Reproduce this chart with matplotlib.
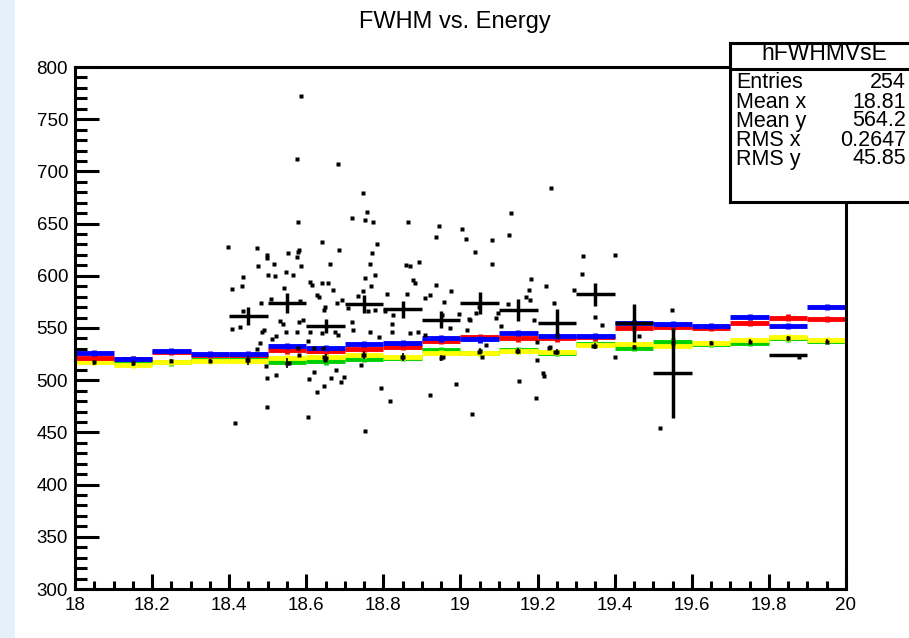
import matplotlib.pyplot as plt
import numpy as np
from matplotlib.patches import Rectangle

plt.rcParams['font.family'] = ['Liberation Sans', 'DejaVu Sans']

# bins of the profiles: 20 bins of 0.1 from 18 to 20
edges = np.round(np.arange(18.0, 20.01, 0.1), 2)
centers = edges[:-1] + 0.05

# scatter entries of hFWHMVsE (energy, fwhm)
scat_x = [18.585, 18.575, 18.681, 18.747, 18.757, 18.719, 18.753, 18.772, 18.578, 18.863,
          18.398, 18.472, 18.640, 18.685, 18.783, 18.770, 18.581, 18.578, 18.552, 18.575,
          18.499, 18.498,
          19.236, 19.130, 18.944, 19.004, 18.937, 19.013, 19.082, 19.126, 19.037, 19.318,
          18.893, 19.082,
          19.400, 19.314, 19.295, 19.349, 19.366, 19.400, 19.464, 19.548, 19.518, 18.976,
          18.957, 19.184, 19.178, 19.169, 19.179, 19.222, 19.242, 18.953, 18.972, 19.017,
          19.022, 19.047, 19.041, 19.106, 19.123, 19.093, 19.190, 19.199, 19.231, 19.214,
          19.152, 19.197, 19.031, 18.988, 19.244, 19.147, 19.057, 19.047, 19.344, 18.955,
          18.877, 18.881, 18.868, 18.937, 18.920, 18.907, 18.996, 19.024, 19.097, 19.067,
          19.198, 19.229, 19.216, 18.922, 18.868, 18.889, 18.907,
          18.474, 18.517, 18.586, 18.662, 18.764, 18.859, 18.436, 18.500, 18.518, 18.547,
          18.565, 18.407, 18.433, 18.610, 18.616, 18.640, 18.657, 18.543, 18.668, 18.753,
          18.777, 18.768, 18.734, 18.748, 18.861, 18.810, 18.509, 18.482, 18.435, 18.584,
          18.634, 18.627, 18.679, 18.692, 18.645, 18.649, 18.708, 18.761, 18.778, 18.803,
          18.826, 18.822, 18.428, 18.407, 18.489, 18.485, 18.539, 18.532, 18.547, 18.582,
          18.591, 18.577, 18.610, 18.640, 18.675, 18.683, 18.722, 18.718, 18.764, 18.789,
          18.822, 18.511, 18.522, 18.479, 18.604, 18.578, 18.619, 18.643, 18.472, 18.446,
          18.496, 18.554, 18.582, 18.649, 18.647, 18.741, 18.748, 18.848, 18.621, 18.677,
          18.498, 18.522, 18.607, 18.664, 18.698, 18.690, 18.646, 18.627, 18.794, 18.817,
          18.499, 18.605, 18.415, 18.753, 19.879]
scat_y = [772, 712, 707, 679, 661, 655, 653, 652, 652, 652,
          628, 627, 632, 625, 630, 622, 625, 623, 622, 618,
          620, 617,
          684, 660, 648, 645, 637, 635, 634, 639, 623, 619,
          613, 611,
          620, 602, 586, 561, 553, 522, 542, 567, 454, 585,
          575, 597, 586, 580, 577, 590, 574, 562, 550, 548,
          559, 570, 564, 552, 573, 560, 558, 537, 532, 507,
          499, 483, 468, 496, 527, 528, 522, 527, 533, 522,
          596, 593, 609, 591, 582, 579, 563, 558, 564, 534,
          519, 531, 504, 486, 545, 546, 543,
          609, 611, 609, 611, 611, 610, 599, 601, 600, 604,
          601, 587, 590, 594, 591, 593, 593, 588, 586, 598,
          601, 590, 581, 585, 583, 583, 578, 574, 566, 576,
          580, 582, 574, 577, 567, 570, 569, 566, 567, 566,
          562, 554, 551, 549, 548, 546, 554, 557, 546, 556,
          558, 546, 546, 545, 546, 543, 548, 556, 546, 541,
          546, 539, 542, 536, 538, 531, 531, 531, 530, 519,
          514, 516, 524, 519, 522, 515, 524, 522, 508, 510,
          502, 505, 501, 502, 503, 498, 494, 489, 493, 480,
          474, 465, 459, 451, 522]

# profile (black crosses)
prof_x = [18.45, 18.55, 18.65, 18.75, 18.85, 18.95, 19.05, 19.15, 19.25, 19.35, 19.45, 19.55, 19.85]
prof_y = [561.5, 574, 552, 572.7, 568, 558, 573.6, 567, 554.5, 582.3, 555, 507, 524]
prof_err = [8.8, 9.6, 6.5, 8.6, 8, 8, 10.5, 10.5, 13.6, 10.8, 18, 43, 0]

# coloured reference histograms
blue_y = [526, 520, 528, 525, 525, 533, 531, 535, 535.6, 540,
          539, 545.5, 542, 542, 554.5, 553.5, 552, 560.8, 552, 569.8]
red_y = [521, 520.5, 527, 524, 524, 528.5, 528, 529.6, 531.5, 537.5,
         541.7, 540, 540, 541, 549.7, 551.3, 550, 554.5, 560, 558.3]
yellow_y = [517.7, 515, 517.7, 518.5, 518.7, 521, 522.5, 524, 522.5, 526,
            526, 528, 527, 533.7, 534.4, 532.8, 535.3, 538.5, 541, 538.5]
green_y = [519, 516, 517, 519, 521, 517.7, 518, 520, 521, 529,
           526.5, 528.5, 526, 535, 530.5, 537, 535, 535.3, 540, 537.5]
mark_y = [517, 516, 518, 518, 519, 516.5, 521, 524, 522, 521.6,
          528, 528, 527, 533, 532, 536, 536, 537, 540, 537]
mark_err = [2, 2, 2, 2, 4, 5, 4, 4, 4, 3, 3, 3, 3, 3, 2, 2, 2, 2, 2, 2]

stat_names = ['Entries', 'Mean x', 'Mean y', 'RMS x', 'RMS y']
stat_vals = ['254', '18.81', '564.2', '0.2647', '45.85']

W, H = 909, 638
fig = plt.figure(figsize=(W / 100, H / 100), dpi=100)
fig.patches.append(Rectangle((0, 0), 15 / W, 1, transform=fig.transFigure,
                             facecolor='#e4f1fa', edgecolor='none', zorder=0))

ax = fig.add_axes([75 / W, 1 - 589 / H, (846 - 75) / W, (589 - 67) / H])

for vals, col in [(green_y, '#00d000'), (yellow_y, '#ffff00'), (red_y, '#ff0000'), (blue_y, '#0000ff')]:
    ax.errorbar(centers, vals, xerr=0.05, yerr=3, fmt='none', ecolor=col, elinewidth=3.5, capsize=0)

ax.errorbar(centers, mark_y, yerr=mark_err, fmt='s', color='k', ms=2.6, mec='none', elinewidth=1.2, capsize=0)
ax.plot(scat_x, scat_y, 's', color='k', ms=2.6, mec='none')
ax.errorbar(prof_x, prof_y, xerr=0.05, yerr=prof_err, fmt='none', ecolor='k', elinewidth=2.5, capsize=0)

ax.set_xlim(18, 20)
ax.set_ylim(300, 800)
ax.set_xticks(np.round(np.arange(18, 20.01, 0.2), 1))
ax.set_xticklabels(['18', '18.2', '18.4', '18.6', '18.8', '19', '19.2', '19.4', '19.6', '19.8', '20'])
ax.set_xticks(np.arange(18, 20.01, 0.05), minor=True)
ax.set_yticks(np.arange(300, 801, 50))
ax.set_yticks(np.arange(300, 801, 10), minor=True)
ax.tick_params(axis='x', which='major', direction='in', length=10.8, width=2.2, labelsize=13.5, pad=6)
ax.tick_params(axis='x', which='minor', direction='in', length=5.8, width=2.2)
ax.tick_params(axis='y', which='major', direction='in', length=17, width=2.2, labelsize=13.5, pad=5)
ax.tick_params(axis='y', which='minor', direction='in', length=8.6, width=2.2)
for sp in ax.spines.values():
    sp.set_linewidth(2.2)

fig.text(0.5, 1 - 22 / H, 'FWHM vs. Energy', ha='center', va='center', fontsize=17)

# stats box
sx0, sx1, sy0, sy1 = 730, 916, 43, 202
st = fig.add_axes([sx0 / W, 1 - sy1 / H, (sx1 - sx0) / W, (sy1 - sy0) / H])
st.set_xticks([])
st.set_yticks([])
st.set_xlim(sx0, sx1)
st.set_ylim(sy1, sy0)
for sp in st.spines.values():
    sp.set_linewidth(2.2)
st.axhline(69, color='k', lw=2.2)
st.text(824, 54, 'hFWHMVsE', ha='center', va='center', fontsize=16.5)
for i, (n, v) in enumerate(zip(stat_names, stat_vals)):
    yy = 83 + i * 19
    st.text(736, yy, n, ha='left', va='center', fontsize=15.5)
    st.text(906, yy, v, ha='right', va='center', fontsize=15.5)

fig.savefig('out.png', dpi=100)
